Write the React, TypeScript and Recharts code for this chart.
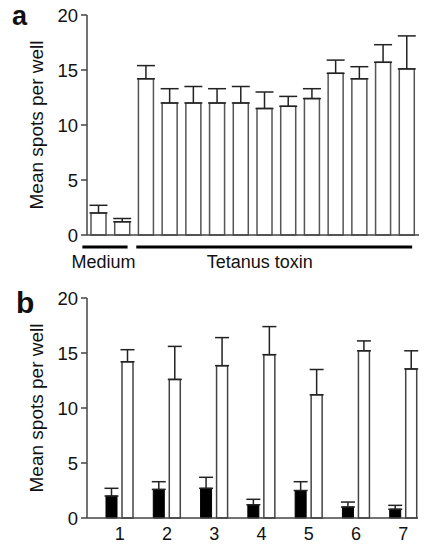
import React from "react";
import { BarChart, Bar, XAxis, YAxis, ErrorBar, Label } from "recharts";

// ---- Panel a data ----
const conditionsA = ["M1", "M2", "T1", "T2", "T3", "T4", "T5", "T6", "T7", "T8", "T9", "T10", "T11", "T12"];
const meansA = [2.0, 1.2, 14.2, 12.0, 12.0, 12.0, 12.0, 11.5, 11.7, 12.4, 14.7, 14.2, 15.7, 15.1];
const upperA = [2.7, 1.5, 15.4, 13.3, 13.5, 13.3, 13.5, 13.0, 12.6, 13.3, 15.9, 15.3, 17.3, 18.1];
const groupNamesA = ["Medium", "Tetanus toxin"];
const groupStartA = [0, 2];
const groupEndA = [1, 13];

// ---- Panel b data ----
const donorsB = ["1", "2", "3", "4", "5", "6", "7"];
const blackMeansB = [2.0, 2.6, 2.7, 1.2, 2.5, 1.0, 0.8];
const blackUpperB = [2.7, 3.3, 3.7, 1.7, 3.3, 1.45, 1.15];
const whiteMeansB = [14.2, 12.6, 13.85, 14.85, 11.2, 15.2, 13.55];
const whiteUpperB = [15.3, 15.6, 16.4, 17.4, 13.5, 16.1, 15.2];

const yTicks = [0, 5, 10, 15, 20];
const yLabel = "Mean spots per well";
const panelLetters = ["a", "b"];

const dataA = conditionsA.map((c, i) => ({
  name: c,
  value: meansA[i],
  err: [0, upperA[i] - meansA[i]],
}));

const dataB = donorsB.map((d, i) => ({
  name: d,
  black: blackMeansB[i],
  blackErr: [0, blackUpperB[i] - blackMeansB[i]],
  white: whiteMeansB[i],
  whiteErr: [0, whiteUpperB[i] - whiteMeansB[i]],
}));

// ---- layout / style ----
const FONT = "'Liberation Sans', Arial, Helvetica, sans-serif";
const AXIS = "#444";
const W = 431;
const A_MARGIN = { top: 15, right: 12, bottom: 0, left: 0 };
const Y_W = 87;
const BAND_A = (W - A_MARGIN.right - Y_W) / conditionsA.length;
const groupStyle = [
  { left: 16.5, right: 5, labelShift: -1.5 },
  { left: 10, right: 5, labelShift: -14.5 },
];
const letterPos = [
  { x: 12, y: 24.5 },
  { x: 16, y: 313 },
];

function GroupTick(props: any) {
  const { x } = props;
  const idx = props.index ?? props.payload?.index;
  const g = groupStartA.indexOf(idx);
  if (g < 0) return null;
  const st = groupStyle[g];
  const x1 = x - st.left;
  const x2 = x + (groupEndA[g] - groupStartA[g]) * BAND_A + st.right;
  const axisY = 235;
  return (
    <g>
      <line x1={x1} x2={x2} y1={axisY + 12} y2={axisY + 12} stroke="#000" strokeWidth={3} />
      <text
        x={(x1 + x2) / 2 + st.labelShift}
        y={axisY + 33}
        textAnchor="middle"
        fontSize={18}
        fontFamily={FONT}
        fill="#111"
      >
        {groupNamesA[g]}
      </text>
    </g>
  );
}

const yTickStyle = { fontSize: 18.5, fontFamily: FONT, fill: "#111" };

export default function App() {
  return (
    <div style={{ position: "absolute", left: 0, top: 0, width: 431, height: 555, background: "#fff" }}>
      <div style={{ position: "absolute", left: 0, top: 0 }}>
        <BarChart width={W} height={280} data={dataA} margin={A_MARGIN} barSize={15}>
          <XAxis
            dataKey="name"
            height={45}
            tickLine={false}
            axisLine={{ stroke: AXIS, strokeWidth: 1.5 }}
            tick={<GroupTick />}
            interval={0}
          />
          <YAxis
            width={Y_W}
            domain={[0, 20]}
            ticks={yTicks}
            tickSize={6}
            tickMargin={3}
            axisLine={{ stroke: AXIS, strokeWidth: 1.5 }}
            tickLine={{ stroke: AXIS, strokeWidth: 1.5 }}
            tick={yTickStyle}
          >
            <Label
              value={yLabel}
              angle={-90}
              position="center"
              dx={-7}
              style={{ fontSize: 19, fontFamily: FONT, fill: "#111" }}
            />
          </YAxis>
          <Bar dataKey="value" fill="#fff" stroke="#555" strokeWidth={1.5} isAnimationActive={false}>
            <ErrorBar dataKey="err" direction="y" width={9} stroke="#222" strokeWidth={1.5} />
          </Bar>
        </BarChart>
      </div>
      <div style={{ position: "absolute", left: 0, top: 280 }}>
        <BarChart
          width={W}
          height={275}
          data={dataB}
          margin={{ top: 18, right: 13, bottom: 0, left: 0 }}
          barSize={11}
          barGap={5}
        >
          <XAxis
            dataKey="name"
            height={37}
            tickLine={false}
            padding={{ left: 9, right: -9 }}
            axisLine={{ stroke: AXIS, strokeWidth: 1.5 }}
            tick={{ fontSize: 18, fontFamily: FONT, fill: "#111" }}
            tickMargin={3}
            interval={0}
          />
          <YAxis
            width={Y_W}
            domain={[0, 20]}
            ticks={yTicks}
            tickSize={6}
            tickMargin={3}
            axisLine={{ stroke: AXIS, strokeWidth: 1.5 }}
            tickLine={{ stroke: AXIS, strokeWidth: 1.5 }}
            tick={yTickStyle}
          >
            <Label
              value={yLabel}
              angle={-90}
              position="center"
              dx={-7}
              style={{ fontSize: 19, fontFamily: FONT, fill: "#111" }}
            />
          </YAxis>
          <Bar dataKey="black" fill="#000" stroke="#000" strokeWidth={1} isAnimationActive={false}>
            <ErrorBar dataKey="blackErr" direction="y" width={7} stroke="#222" strokeWidth={1.5} />
          </Bar>
          <Bar dataKey="white" fill="#fff" stroke="#444" strokeWidth={1.5} isAnimationActive={false}>
            <ErrorBar dataKey="whiteErr" direction="y" width={7} stroke="#222" strokeWidth={1.5} />
          </Bar>
        </BarChart>
      </div>
      <svg
        width={W}
        height={555}
        style={{ position: "absolute", left: 0, top: 0, pointerEvents: "none" }}
      >
        {panelLetters.map((l, i) => (
          <text
            key={l}
            x={letterPos[i].x}
            y={letterPos[i].y}
            fontFamily={FONT}
            fontWeight="bold"
            fontSize={i === 0 ? 27 : 30}
            fill="#111"
          >
            {l}
          </text>
        ))}
      </svg>
    </div>
  );
}
